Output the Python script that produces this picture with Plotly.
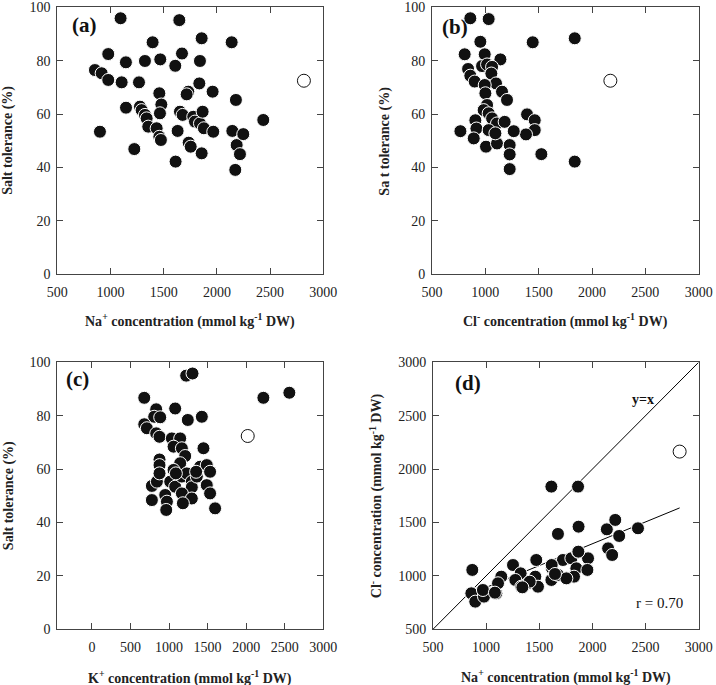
import plotly.graph_objects as go
import numpy as np

# ---------------- data ----------------
# Panel (a): Na+ concentration vs salt tolerance
a_na = [1095, 1647, 1857, 2139, 1396, 979, 1672, 1145, 1324, 1468, 1609, 1841,
        854, 917, 979, 1105, 1268, 1146, 1277, 1293, 1324, 1340, 1355, 1434,
        1459, 1474, 1459, 1478, 1465, 901, 1224, 1653, 1678, 1731, 1716, 1835,
        1960, 1778, 1794, 1841, 1866, 1878, 1966, 1631, 1735, 1754, 1857, 1612,
        2179, 2145, 2186, 2217, 2248, 2173, 2436]
a_st = [95.9, 95.2, 88.4, 86.9, 86.9, 82.5, 82.7, 79.4, 79.9, 80.5, 78.1, 79.9,
        76.5, 75.3, 72.8, 71.9, 71.9, 62.4, 62.8, 61.5, 59.7, 58.4, 55.3, 54.7,
        51.5, 50.3, 67.8, 63.6, 60.3, 53.4, 46.9, 60.9, 59.7, 68.4, 67.4, 71.5,
        68.4, 59.0, 57.2, 56.5, 60.9, 54.7, 53.4, 53.7, 49.3, 47.8, 45.3, 42.2,
        65.3, 53.7, 48.4, 45.0, 52.5, 39.1, 57.8]
a_open_na = [2818]
a_open_st = [72.5]

# Panel (b): Cl- concentration vs salt tolerance
b_cl = [859, 1031, 1444, 1838, 953, 806, 994, 1141, 969, 1016, 1063, 838,
        859, 900, 1056, 1100, 994, 1000, 1156, 1203, 1016, 984, 1031, 1063,
        906, 1109, 1181, 1391, 1463, 1463, 1381, 1266, 766, 916, 891, 1006,
        1109, 1228, 1228, 1031, 1094, 1525, 1228, 1838]
b_st = [95.9, 95.6, 86.9, 88.4, 87.1, 82.4, 82.4, 80.5, 78.0, 78.6, 77.7, 76.9,
        74.4, 72.2, 75.2, 71.5, 70.9, 67.8, 68.4, 65.3, 63.4, 61.5, 60.3, 58.4,
        57.7, 56.5, 57.1, 59.9, 57.7, 54.0, 52.4, 53.6, 53.6, 54.6, 50.9, 47.8,
        49.0, 48.4, 44.9, 54.0, 52.8, 45.0, 39.4, 42.2]
b_open_cl = [2172]
b_open_st = [72.5]

# Panel (c): K+ concentration vs salt tolerance
c_k = [1222, 1304, 678, 2223, 2560, 1079, 833, 807, 885, 1243, 1425, 678,
       712, 833, 876, 1036, 1144, 1058, 1166, 1446, 1209, 876, 876, 1144,
       1058, 1403, 1489, 777, 842, 876, 1015, 1079, 1166, 1230, 1295, 1295,
       1360, 1489, 1532, 1166, 950, 1295, 777, 972, 1179, 963, 1597, 1532,
       1088, 1351]
c_st = [95.0, 95.8, 86.7, 86.7, 88.6, 82.7, 82.4, 79.6, 79.4, 78.4, 79.6, 76.8,
        75.3, 73.4, 72.1, 71.5, 71.5, 68.4, 67.8, 67.8, 64.9, 63.6, 61.5, 62.2,
        59.7, 60.9, 61.5, 53.7, 55.3, 58.4, 55.3, 53.4, 57.2, 58.4, 55.3, 53.2,
        57.2, 54.0, 50.9, 50.9, 50.3, 49.0, 48.4, 47.8, 47.2, 44.7, 45.3, 59.0,
        58.4, 59.0]
c_open_k = [2020]
c_open_st = [72.4]

# Panel (d): Na+ vs Cl- concentration
d_na = [870, 861, 898, 980, 970, 1096, 1143, 1112, 1253, 1325, 1275, 1331,
        1394, 1472, 1463, 1488, 1410, 1614, 1865, 1676, 1870, 1620, 1645, 1614,
        1723, 1676, 1802, 1865, 1959, 1849, 1827, 1953, 1755, 2136, 2215, 2252,
        2148, 2186, 2429, 1083, 1341, 1617, 1648, 1868]
d_cl = [1056, 837, 759, 806, 868, 837, 993, 931, 1102, 1024, 962, 899,
        931, 1149, 993, 899, 946, 1836, 1836, 1393, 1461, 1071, 1009, 962,
        1149, 1009, 1165, 1227, 1165, 1071, 993, 1056, 977, 1436, 1524, 1374,
        1258, 1196, 1446, 843, 893, 1102, 1018, 1227]
d_open_na = [2821]
d_open_cl = [2164]
REG_SLOPE = 0.409
REG_INTERCEPT = 483
R_TEXT = "r = 0.70"

# ---------------- figure ----------------
FONT = "Liberation Serif"
fig = go.Figure()

filled = dict(size=13, color="#111111", line=dict(color="white", width=1))
hollow = dict(size=13, color="white", line=dict(color="#111111", width=1))

panels = [
    ("x", "y", a_na, a_st, a_open_na, a_open_st),
    ("x2", "y2", b_cl, b_st, b_open_cl, b_open_st),
    ("x3", "y3", c_k, c_st, c_open_k, c_open_st),
    ("x4", "y4", d_na, d_cl, d_open_na, d_open_cl),
]

# y = x reference line in panel (d)
fig.add_trace(go.Scatter(x=[500, 3000], y=[500, 3000], mode="lines",
                         line=dict(color="black", width=1), xaxis="x4", yaxis="y4",
                         showlegend=False, hoverinfo="skip"))
# regression line in panel (d)
all_na = np.array(d_na + d_open_na, dtype=float)
fx = np.array([all_na.min(), all_na.max()])
fig.add_trace(go.Scatter(x=fx, y=REG_INTERCEPT + REG_SLOPE * fx, mode="lines",
                         line=dict(color="black", width=1), xaxis="x4", yaxis="y4",
                         showlegend=False, hoverinfo="skip"))

for xa, ya, xs, ys, ox, oy in panels:
    fig.add_trace(go.Scatter(x=xs, y=ys, mode="markers", marker=filled,
                             xaxis=xa, yaxis=ya, showlegend=False))
    fig.add_trace(go.Scatter(x=ox, y=oy, mode="markers", marker=hollow,
                             xaxis=xa, yaxis=ya, showlegend=False))

axis_common = dict(showgrid=False, zeroline=False, showline=True, linecolor="#444",
                   linewidth=1, mirror="ticks", ticks="inside", ticklen=6,
                   tickcolor="#444", tickwidth=1, automargin=False,
                   tickfont=dict(family=FONT, size=14, color="#222"))

dom_x_left = [0.080, 0.4515]
dom_x_right_top = [0.6034, 0.9758]
dom_x_right_bot = [0.6047, 0.9758]
dom_y_top = [0.5996, 0.9893]
dom_y_bot = [0.0813, 0.4711]

fig.update_layout(
    width=716, height=685,
    margin=dict(l=0, r=0, t=0, b=0, pad=0, autoexpand=False),
    paper_bgcolor="white", plot_bgcolor="white", showlegend=False,
    xaxis=dict(axis_common, domain=dom_x_left, range=[500, 3000], dtick=500,
               anchor="y", ticklabelstandoff=5),
    yaxis=dict(axis_common, domain=dom_y_top, range=[0, 100], dtick=20,
               anchor="x", ticklabelstandoff=3),
    xaxis2=dict(axis_common, domain=dom_x_right_top, range=[500, 3000], dtick=500,
                anchor="y2", ticklabelstandoff=5),
    yaxis2=dict(axis_common, domain=dom_y_top, range=[0, 100], dtick=20,
                anchor="x2", ticklabelstandoff=3),
    xaxis3=dict(axis_common, domain=dom_x_left, range=[-450, 3000],
                tickvals=[0, 500, 1000, 1500, 2000, 2500, 3000],
                anchor="y3", ticklabelstandoff=5),
    yaxis3=dict(axis_common, domain=dom_y_bot, range=[0, 100], dtick=20,
                anchor="x3", ticklabelstandoff=3),
    xaxis4=dict(axis_common, domain=dom_x_right_bot, range=[500, 3000], dtick=500,
                anchor="y4", ticklabelstandoff=5),
    yaxis4=dict(axis_common, domain=dom_y_bot, range=[500, 3000], dtick=500,
                anchor="x4", ticklabelstandoff=3),
)

title_font = dict(family=FONT, size=14, color="#222")
label_font = dict(family=FONT, size=21, color="#111")

def dom_ann(axn, x, y, text, font, xanchor="center", yanchor="middle", **kw):
    sfx = "" if axn == 1 else str(axn)
    fig.add_annotation(xref=f"x{sfx} domain", yref=f"y{sfx} domain", x=x, y=y,
                       text=text, showarrow=False, font=font,
                       xanchor=xanchor, yanchor=yanchor, **kw)

# panel labels
dom_ann(1, 0.048, 0.934, "<b>(a)</b>", label_font, xanchor="left")
dom_ann(2, 0.029, 0.927, "<b>(b)</b>", label_font, xanchor="left")
dom_ann(3, 0.026, 0.936, "<b>(c)</b>", label_font, xanchor="left")
dom_ann(4, 0.075, 0.921, "<b>(d)</b>", label_font, xanchor="left")

# axis titles
dom_ann(1, 0.5, -0.175, "<b>Na<sup>+</sup> concentration (mmol kg<sup>-1</sup> DW)</b>", title_font)
dom_ann(2, 0.5, -0.175, "<b>Cl<sup>-</sup> concentration (mmol kg<sup>-1</sup> DW)</b>", title_font)
dom_ann(3, 0.5, -0.179, "<b>K<sup>+</sup> concentration (mmol kg<sup>-1</sup> DW)</b>", title_font)
dom_ann(4, 0.5, -0.178, "<b>Na<sup>+</sup> concentration (mmol kg<sup>-1</sup> DW)</b>", title_font)
dom_ann(1, -0.185, 0.5, "<b>Salt tolerance (%)</b>", title_font, textangle=-90)
dom_ann(2, -0.177, 0.5, "<b>Sa t tolerance (%)</b>", title_font, textangle=-90)
dom_ann(3, -0.184, 0.5, "<b>Salt tolerance (%)</b>", title_font, textangle=-90)
dom_ann(4, -0.213, 0.5, "<b>Cl<sup>-</sup> concentration (mmol kg<sup>-1</sup> DW)</b>",
        title_font, textangle=-90)

# texts in panel (d)
fig.add_annotation(xref="x4", yref="y4", x=2476, y=2647, text="<b>y=x</b>",
                   showarrow=False, font=dict(family=FONT, size=14, color="#111"))
fig.add_annotation(xref="x4", yref="y4", x=2633, y=743, text=R_TEXT,
                   showarrow=False, font=dict(family=FONT, size=15, color="#111"))

fig.write_html("out.html", config={"displayModeBar": False},
               post_script="document.body.style.margin='0';document.body.style.padding='0';")
